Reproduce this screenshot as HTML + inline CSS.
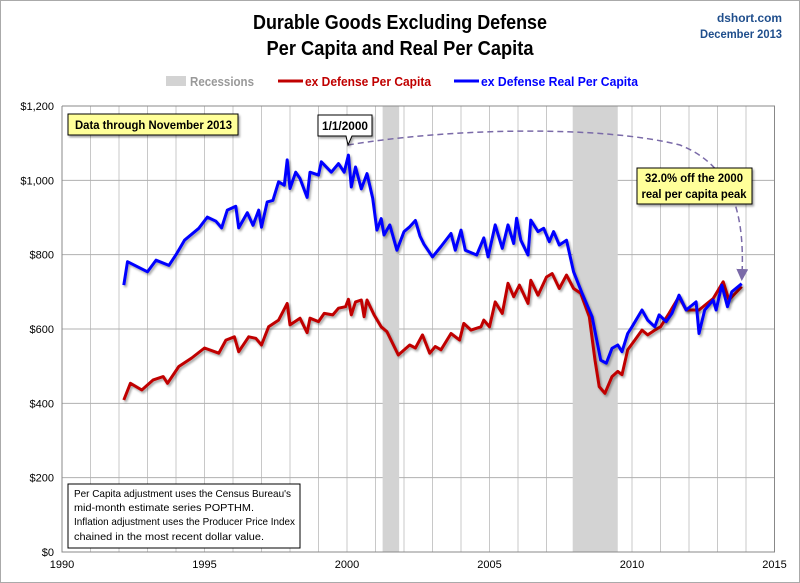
<!DOCTYPE html>
<html><head><meta charset="utf-8"><style>
html,body{margin:0;padding:0;background:#fff}
svg{display:block;font-family:"Liberation Sans",sans-serif}
</style></head><body>
<svg id="chart" width="800" height="583" viewBox="0 0 800 583">
<defs>
<filter id="sh" x="-5%" y="-5%" width="110%" height="120%"><feDropShadow dx="1.5" dy="2" stdDeviation="1" flood-color="#000" flood-opacity="0.35"/></filter>
<marker id="arr" markerWidth="8" markerHeight="8" refX="4" refY="4" orient="auto"><path d="M0,0 L8,4 L0,8 z" fill="#7a6aa8"/></marker>
</defs>
<rect x="0.5" y="0.5" width="799" height="582" fill="#fff" stroke="#aaa"/>
<text x="400" y="29" text-anchor="middle" font-weight="bold" font-size="20" textLength="294" lengthAdjust="spacingAndGlyphs" fill="#000">Durable Goods Excluding Defense</text>
<text x="400" y="55" text-anchor="middle" font-weight="bold" font-size="20" textLength="267" lengthAdjust="spacingAndGlyphs" fill="#000">Per Capita and Real Per Capita</text>
<text x="782" y="22" text-anchor="end" font-weight="bold" font-size="12" textLength="65" lengthAdjust="spacingAndGlyphs" fill="#1f4e8c">dshort.com</text>
<text x="782" y="38" text-anchor="end" font-weight="bold" font-size="12" textLength="82" lengthAdjust="spacingAndGlyphs" fill="#1f4e8c">December 2013</text>
<g>
<rect x="166" y="76" width="20" height="10" fill="#d3d3d3"/>
<text x="190" y="86" font-size="13" textLength="64" lengthAdjust="spacingAndGlyphs" fill="#999" font-weight="bold">Recessions</text>
<line x1="278" y1="81" x2="303" y2="81" stroke="#c00000" stroke-width="3"/>
<text x="305" y="86" font-size="13" textLength="126" lengthAdjust="spacingAndGlyphs" fill="#c00000" font-weight="bold">ex Defense Per Capita</text>
<line x1="454" y1="81" x2="479" y2="81" stroke="#0000ff" stroke-width="3"/>
<text x="481" y="86" font-size="13" textLength="157" lengthAdjust="spacingAndGlyphs" fill="#0000ff" font-weight="bold">ex Defense Real Per Capita</text>
</g>
<g id="grid"></g>
<g id="rec"></g>
<g id="axes"></g>
<g id="series"></g>
<path d="M348,145 C450,128 600,125 680,145 C730,165 745,210 742,275" fill="none" stroke="#7a6aa8" stroke-width="1.5" stroke-dasharray="6,4" marker-end="url(#arr)"/>
<g filter="url(#sh)">
<rect x="68" y="114" width="170" height="21" fill="#ffff99" stroke="#000"/>
<text x="75" y="129" font-size="12" font-weight="bold" textLength="157" lengthAdjust="spacingAndGlyphs">Data through November 2013</text>
</g>
<g filter="url(#sh)">
<path d="M318,115 H372 V136 H352 L348,145 L346,136 H318 Z" fill="#fff" stroke="#000"/>
<text x="322" y="130" font-size="12" font-weight="bold" textLength="46" lengthAdjust="spacingAndGlyphs">1/1/2000</text>
</g>
<g filter="url(#sh)">
<rect x="637" y="168" width="115" height="36" fill="#ffff99" stroke="#000"/>
<text x="694" y="182" text-anchor="middle" font-size="12" font-weight="bold" textLength="98" lengthAdjust="spacingAndGlyphs">32.0% off the 2000</text>
<text x="694" y="198" text-anchor="middle" font-size="12" font-weight="bold" textLength="105" lengthAdjust="spacingAndGlyphs">real per capita peak</text>
</g>
<g font-size="10.5">
<rect x="68" y="484" width="232" height="64" fill="#fff" stroke="#000"/>
<text x="74" y="497" textLength="217" lengthAdjust="spacingAndGlyphs">Per Capita adjustment uses the Census Bureau's</text>
<text x="74" y="511" textLength="180" lengthAdjust="spacingAndGlyphs">mid-month estimate series POPTHM.</text>
<text x="74" y="525" textLength="221" lengthAdjust="spacingAndGlyphs">Inflation adjustment uses the Producer Price Index</text>
<text x="74" y="540" textLength="190" lengthAdjust="spacingAndGlyphs">chained in the most recent dollar value.</text>
</g>
</svg>
<script>
const xTicks=[1990,1995,2000,2005,2010,2015];
const yTicks=[0,200,400,600,800,1000,1200];
const yTickLabels=["$0","$200","$400","$600","$800","$1,000","$1,200"];
const recessionStarts=[2001.25,2007.92];
const recessionEnds=[2001.83,2009.5];
const realYears=[1992.17,1992.3,1993.0,1993.3,1993.75,1994.0,1994.3,1994.8,1995.1,1995.4,1995.6,1995.8,1996.1,1996.2,1996.5,1996.7,1996.9,1997.0,1997.2,1997.4,1997.6,1997.8,1997.9,1998.0,1998.2,1998.35,1998.6,1998.7,1999.0,1999.1,1999.45,1999.7,1999.9,2000.05,2000.15,2000.3,2000.5,2000.7,2000.9,2001.05,2001.2,2001.3,2001.5,2001.75,2002.0,2002.2,2002.4,2002.56,2002.7,2003.0,2003.3,2003.65,2003.8,2004.0,2004.15,2004.55,2004.8,2004.95,2005.2,2005.45,2005.65,2005.85,2005.95,2006.1,2006.35,2006.45,2006.7,2006.9,2007.1,2007.25,2007.45,2007.7,2007.95,2008.25,2008.6,2008.9,2009.1,2009.3,2009.5,2009.65,2009.85,2010.0,2010.35,2010.55,2010.8,2010.95,2011.2,2011.4,2011.65,2011.9,2012.25,2012.35,2012.55,2012.85,2012.95,2013.15,2013.35,2013.5,2013.85];
const realValues=[718,781,754,785,771,800,839,871,901,890,872,920,930,872,913,879,920,874,942,946,996,987,1055,978,1022,1005,954,1022,1014,1050,1022,1045,1022,1068,982,1036,977,1018,952,866,897,853,880,812,862,875,892,850,828,794,822,857,812,866,812,799,845,794,880,817,880,830,898,839,799,893,862,871,835,862,826,839,754,696,633,516,508,548,557,539,588,606,651,624,606,638,620,642,691,651,673,588,651,678,651,718,660,700,722];
const nomYears=[1992.17,1992.4,1992.8,1993.2,1993.55,1993.7,1994.1,1994.55,1995.0,1995.5,1995.75,1996.05,1996.2,1996.55,1996.8,1997.0,1997.25,1997.6,1997.9,1998.0,1998.35,1998.6,1998.7,1999.0,1999.2,1999.5,1999.7,1999.95,2000.05,2000.15,2000.3,2000.5,2000.6,2000.7,2000.95,2001.2,2001.4,2001.8,2002.2,2002.4,2002.65,2002.9,2003.1,2003.3,2003.65,2003.95,2004.1,2004.35,2004.7,2004.8,2005.0,2005.2,2005.45,2005.65,2005.85,2006.05,2006.35,2006.45,2006.7,2007.0,2007.2,2007.45,2007.7,2007.95,2008.2,2008.5,2008.7,2008.85,2009.05,2009.3,2009.5,2009.65,2009.85,2010.1,2010.35,2010.55,2010.8,2011.0,2011.3,2011.65,2011.9,2012.35,2012.85,2013.2,2013.4,2013.85];
const nomValues=[409,454,436,463,472,454,499,522,549,535,570,579,539,579,575,557,606,624,669,611,629,590,629,620,642,638,656,660,680,638,673,678,633,678,638,606,593,530,557,549,584,535,553,544,588,570,615,597,606,624,606,673,642,723,687,718,669,731,691,740,749,709,745,709,696,633,516,445,427,472,486,477,544,570,597,584,597,606,642,687,651,651,682,727,678,714];
const X0=62,X1=774.5,Y0=552,Y1=106;
const xs=y=>X0+(y-1990)/(2015-1990)*(X1-X0);
const ys=v=>Y0-v/1200*(Y0-Y1);
const NS="http://www.w3.org/2000/svg";
function mk(t,a,p){const e=document.createElementNS(NS,t);for(const k in a)e.setAttribute(k,a[k]);p.appendChild(e);return e;}
const grid=document.getElementById('grid'),axes=document.getElementById('axes'),rec=document.getElementById('rec'),ser=document.getElementById('series');
for(let yr=1990;yr<=2015;yr++){
  const l=mk('line',{x1:xs(yr),x2:xs(yr),y1:Y1,y2:Y0,stroke:'#c8c8c8','stroke-width':1},grid);
  
  
}
yTicks.forEach((v,i)=>{
  const l=mk('line',{x1:X0,x2:X1,y1:ys(v),y2:ys(v),stroke:'#b0b0b0','stroke-width':1},grid);
  
  
  const t=mk('text',{x:X0-8,y:ys(v)+4,'text-anchor':'end','font-size':11,fill:'#000'},axes);
  t.textContent=yTickLabels[i];
  
  
});
xTicks.forEach(v=>{
  const t=mk('text',{x:xs(v),y:Y0+16,'text-anchor':'middle','font-size':11,fill:'#000'},axes);
  t.textContent=v;
  
  
});
recessionStarts.forEach((s,i)=>{
  const r=mk('rect',{x:xs(s),y:Y1,width:xs(recessionEnds[i])-xs(s),height:Y0-Y1,fill:'#d3d3d3'},rec);
  
  
});
const ax=mk('path',{d:`M${X0},${Y1} V${Y0} H${X1} V${Y1} H${X0}`,fill:'none',stroke:'#888'},axes);


function line(xa,va,col,name){
  const d=xa.map((x,i)=>(i?'L':'M')+xs(x).toFixed(1)+','+ys(va[i]).toFixed(1)).join(' ');
  const p=mk('path',{d:d,fill:'none',stroke:col,'stroke-width':3,'stroke-linejoin':'round',filter:'url(#sh)'},ser);
  
  
}
line(nomYears,nomValues,'#c00000','nominal-per-capita-line');
line(realYears,realValues,'#0000ff','real-per-capita-line');
</script>
</body></html>
